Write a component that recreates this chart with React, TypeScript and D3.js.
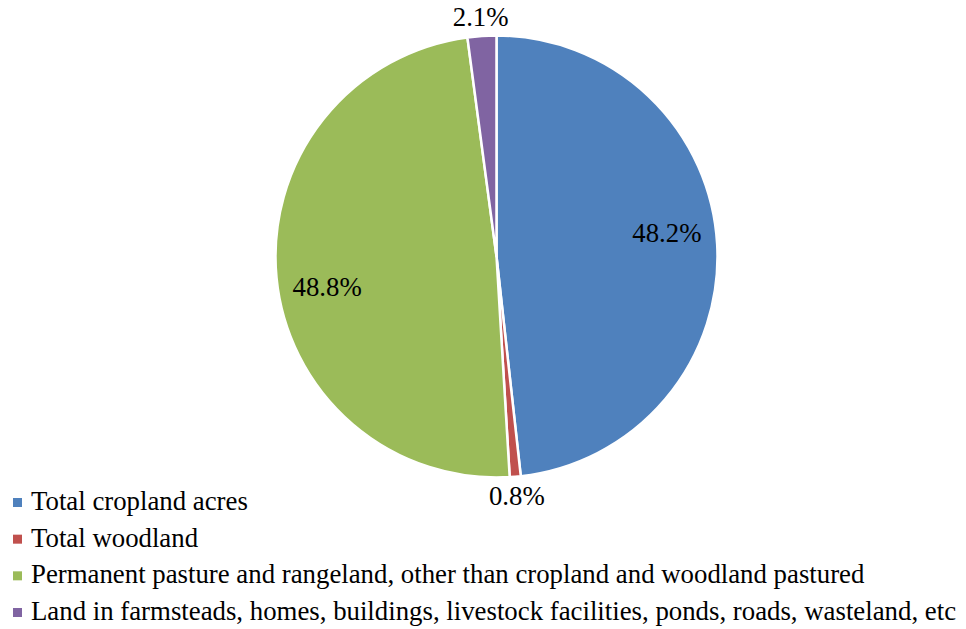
import React from "react";
import * as d3 from "d3";

const categories = [
  "Total cropland acres",
  "Total woodland",
  "Permanent pasture and rangeland, other than cropland and woodland pastured",
  "Land in farmsteads, homes, buildings, livestock facilities, ponds, roads, wasteland, etc",
];
const values = [48.2, 0.8, 48.8, 2.1];
const colors = ["#4F81BD", "#C0504D", "#9BBB59", "#8064A2"];
const labelInside = [true, false, true, false];

const W = 966;
const H = 629;
const cx = 496.5;
const cy = 256.5;
const R = 221;
const FONT = "Liberation Serif";
const FS = 26.8;

export default function App() {
  const pie = d3
    .pie<number>()
    .value((d) => d)
    .sort(null)
    .startAngle(0)
    .endAngle(2 * Math.PI);
  const arcs = pie(values);
  const arcGen = d3.arc<d3.PieArcDatum<number>>().innerRadius(0).outerRadius(R);

  const legendY = d3.scaleLinear().domain([0, 3]).range([510, 620]);

  return (
    <svg
      width={W}
      height={H}
      style={{ position: "absolute", left: 0, top: 0, background: "#fff", fontFamily: FONT }}
    >
      <g transform={`translate(${cx},${cy})`}>
        {arcs.map((a, i) => (
          <path key={i} d={arcGen(a) || ""} fill={colors[i]} stroke="#fff" strokeWidth={2.5} strokeLinejoin="round" />
        ))}
        {arcs.map((a, i) => {
          const mid = (a.startAngle + a.endAngle) / 2 - (labelInside[i] ? 0.08 : 0);
          const r = labelInside[i] ? 172 : R + 19;
          const x = Math.sin(mid) * r;
          const y = -Math.cos(mid) * r;
          return (
            <text
              key={"l" + i}
              x={x}
              y={y}
              textAnchor="middle"
              dominantBaseline="central"
              fontSize={FS}
              fill="#000"
              style={{ fontFamily: FONT }}
            >
              {values[i].toFixed(1)}%
            </text>
          );
        })}
      </g>
      {categories.map((c, i) => (
        <g key={"lg" + i}>
          <rect x={13} y={legendY(i) - 12} width={9} height={9} fill={colors[i]} />
          <text x={31} y={legendY(i)} fontSize={FS} fill="#000" style={{ fontFamily: FONT }}>
            {c}
          </text>
        </g>
      ))}
    </svg>
  );
}
